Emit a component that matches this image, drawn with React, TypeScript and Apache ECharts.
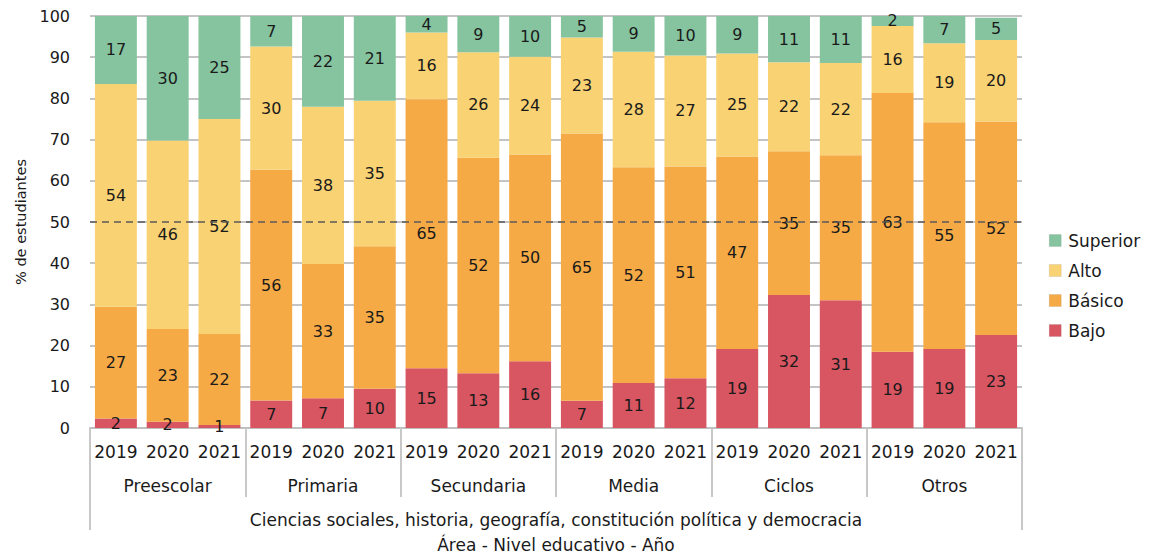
import React, { useEffect, useRef } from "react";
import * as echarts from "echarts";

const levels = ["Preescolar", "Primaria", "Secundaria", "Media", "Ciclos", "Otros"];
const years = ["2019", "2020", "2021"];
const area = ["Ciencias sociales, historia, geografía, constitución política y democracia"];
const xTitle = "Área - Nivel educativo - Año";
const yTitle = "% de estudiantes";
const seriesNames = ["Superior", "Alto", "Básico", "Bajo"];

const bajo = [2.3, 1.5, 0.7, 6.7, 7.2, 9.5, 14.5, 13.3, 16.2, 6.6, 10.9, 12.1, 19.2, 32.3, 31.0, 18.5, 19.2, 22.6];
const basico = [27.1, 22.5, 22.1, 56.0, 32.6, 34.6, 65.3, 52.3, 50.2, 64.9, 52.4, 51.4, 46.7, 34.9, 35.2, 62.8, 55.0, 51.8];
const alto = [54.1, 45.8, 52.2, 29.9, 38.2, 35.3, 16.2, 25.6, 23.7, 23.3, 28.0, 26.9, 25.0, 21.6, 22.4, 16.3, 19.2, 19.8];
const superior = [16.5, 30.2, 25.0, 7.4, 22.0, 20.6, 4.0, 8.8, 9.9, 5.2, 8.7, 9.6, 9.1, 11.2, 11.4, 2.4, 6.6, 5.4];
const refLine = 50;

const colors: Record<string, string> = {
  Superior: "#86C4A0",
  Alto: "#F8D273",
  "Básico": "#F5AA46",
  Bajo: "#D85562",
};

const FONT = "'DejaVu Sans', sans-serif";
const TXT = "#1a1a1a";

export default function App() {
  const ref = useRef<HTMLDivElement>(null);
  useEffect(() => {
    if (!ref.current) return;
    const chart = echarts.init(ref.current, undefined, { renderer: "svg" });
    const cats = levels.flatMap((l) => years.map((y) => `${l}|${y}`));
    const mk = (name: string, data: number[], extra: any = {}) => ({
      name,
      type: "bar",
      stack: "total",
      barCategoryGap: "19%",
      data,
      itemStyle: { color: colors[name] },
      label: {
        show: true,
        position: "inside",
        color: TXT,
        fontSize: 16,
        fontFamily: FONT,
        formatter: (p: any) => String(Math.round(p.value)),
      },
      ...extra,
    });
    chart.setOption({
      animation: false,
      textStyle: { fontFamily: FONT },
      grid: { left: 82, right: 122, top: 8, bottom: 128, outerBoundsMode: "none", containLabel: false },
      legend: {
        orient: "vertical",
        left: 1036,
        top: 219,
        data: seriesNames,
        icon: "rect",
        itemWidth: 12,
        itemHeight: 12,
        itemGap: 13,
        itemStyle: { borderColor: "rgba(0,0,0,0.15)", borderWidth: 0.5 },
        textStyle: { fontSize: 17, color: TXT, fontFamily: FONT, padding: [0, 0, 0, 2] },
      },
      xAxis: [
        {
          type: "category",
          position: "bottom",
          data: cats,
          axisLine: { show: true, lineStyle: { color: "#BFBFBF", width: 2 } },
          axisTick: { show: false },
          axisLabel: {
            interval: 0,
            margin: 15,
            fontSize: 17,
            color: TXT,
            fontFamily: FONT,
            formatter: (v: string) => v.split("|")[1],
          },
          name: xTitle,
          nameLocation: "middle",
          nameGap: 108,
          nameTextStyle: { fontSize: 17, color: TXT, fontFamily: FONT },
        },
        {
          type: "category",
          position: "bottom",
          offset: 0,
          data: levels,
          axisLine: { show: false },
          axisTick: { show: true, interval: 0, length: 69, lineStyle: { color: "#C8C8C8", width: 2 } },
          axisLabel: { interval: 0, margin: 49, fontSize: 17, color: TXT, fontFamily: FONT },
        },
        {
          type: "category",
          position: "bottom",
          offset: 0,
          data: area,
          axisLine: { show: false },
          axisTick: { show: true, interval: 0, length: 102, lineStyle: { color: "#C8C8C8", width: 2 } },
          axisLabel: { interval: 0, margin: 83, fontSize: 17, color: TXT, fontFamily: FONT },
        },
      ],
      yAxis: {
        type: "value",
        min: 0,
        max: 100,
        interval: 10,
        axisLine: { show: false },
        axisTick: { show: false },
        splitLine: { lineStyle: { color: "#C4C4C4", width: 2 } },
        axisLabel: { fontSize: 16, color: TXT, margin: 20, fontFamily: FONT },
        name: yTitle,
        nameLocation: "middle",
        nameRotate: 90,
        nameGap: 61,
        nameTextStyle: { fontSize: 14.5, color: TXT, fontFamily: FONT },
      },
      series: [
        mk("Bajo", bajo),
        mk("Básico", basico),
        mk("Alto", alto),
        mk("Superior", superior, {
          markLine: {
            silent: true,
            symbol: "none",
            label: { show: false },
            lineStyle: { type: [7, 5], color: "#595959", width: 1.5 },
            data: [{ yAxis: refLine }],
          },
        }),
      ],
    });
    return () => chart.dispose();
  }, []);
  return <div ref={ref} style={{ width: 1136, height: 548 }} />;
}
